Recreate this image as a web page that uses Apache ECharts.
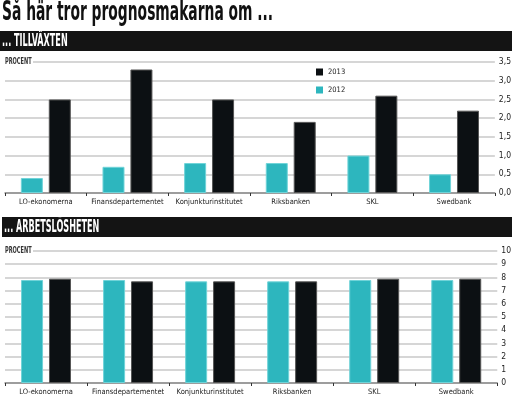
<!DOCTYPE html>
<html><head><meta charset="utf-8">
<script src="https://cdn.jsdelivr.net/npm/echarts@6/dist/echarts.min.js"></script>
<style>html,body{margin:0;padding:0;background:#fff}#c{width:514px;height:401px}</style>
</head><body><div id="c"></div>
<script>
const categories = ['LO-ekonomerna','Finansdepartementet','Konjunkturinstitutet','Riksbanken','SKL','Swedbank'];
const tillvaxt2012 = [0.4, 0.7, 0.8, 0.8, 1.0, 0.5];
const tillvaxt2013 = [2.5, 3.3, 2.5, 1.9, 2.6, 2.2];
const arbetsloshet2012 = [7.8, 7.8, 7.7, 7.7, 7.8, 7.8];
const arbetsloshet2013 = [7.9, 7.7, 7.7, 7.7, 7.9, 7.9];
const legendOrder = ['2013', '2012'];
const titleText = 'Så här tror prognosmakarna om ...';
const section1 = '... TILLVÄXTEN';
const section2 = '... ARBETSLÖSHETEN';
const unitText = 'PROCENT';

const FF = "'Liberation Sans Narrow','DejaVu Sans Condensed',sans-serif";
const TEAL = '#2db6be', BLACK = '#0c1013';
const chart = echarts.init(document.getElementById('c'), null, {renderer:'canvas'});

function xAx(i){
  return {type:'category', gridIndex:i, data:categories,
    axisLine:{lineStyle:{color:'#8a8a8a', width:1.5}},
    axisTick:{show:true, length:3, lineStyle:{color:'#333', width:1}},
    axisLabel:{interval:0, fontSize:7.5, color:'#222', margin:5, fontFamily:FF}};
}
function yAx(i, max, interval, fmt){
  return {type:'value', gridIndex:i, position:'right', min:0, max:max, interval:interval,
    axisLine:{show:false}, axisTick:{show:false},
    splitLine:{lineStyle:{color:'#c8c8c8', width:1.5}},
    axisLabel:{fontSize:8.5, color:'#222', margin:4, fontFamily:FF, formatter:fmt}};
}
function bar(name, data, i, color, border){
  return {name:name, type:'bar', xAxisIndex:i, yAxisIndex:i, data:data,
    barWidth:22, barGap:'27%',
    itemStyle:{color:color, borderColor:border, borderWidth:1}};
}

chart.setOption({
  animation:false,
  backgroundColor:'#fff',
  legend:{data:legendOrder, orient:'vertical', left:311, top:63, itemWidth:7, itemHeight:7, itemGap:10,
    icon:'rect', itemStyle:{borderWidth:0}, textStyle:{fontSize:7.5, color:'#222', fontFamily:FF}},
  grid:[{left:5, right:16, top:62, height:131}, {left:5, right:16, top:251, height:132}],
  xAxis:[xAx(0), xAx(1)],
  yAxis:[yAx(0, 3.5, 0.5, v => v.toFixed(1).replace('.', ',')), yAx(1, 10, 1, v => String(v))],
  series:[
    bar('2012', tillvaxt2012, 0, TEAL, '#6fd3d8'),
    bar('2013', tillvaxt2013, 0, BLACK, '#555'),
    bar('2012', arbetsloshet2012, 1, TEAL, '#6fd3d8'),
    bar('2013', arbetsloshet2013, 1, BLACK, '#555')
  ],
  graphic:[
    {type:'text', x:2, y:-1, scaleX:0.57, z:100, style:{text:titleText, fill:'#111', font:"bold 27px "+FF, verticalAlign:'top'}},
    {type:'rect', shape:{x:0, y:31, width:512, height:20}, style:{fill:'#141414'}, z:100},
    {type:'text', x:2, y:32, scaleX:0.5, z:101, style:{text:section1, fill:'#fff', font:"bold 18px "+FF, verticalAlign:'top'}},
    {type:'rect', shape:{x:2, y:217, width:510, height:20}, style:{fill:'#141414'}, z:100},
    {type:'text', x:4, y:218, scaleX:0.5, z:101, style:{text:section2, fill:'#fff', font:"bold 18px "+FF, verticalAlign:'top'}},
    {type:'rect', shape:{x:0, y:57, width:33, height:10}, style:{fill:'#fff'}, z:100},
    {type:'text', x:5, y:58, scaleX:0.7, z:101, style:{text:unitText, fill:'#333', font:"bold 8px "+FF, verticalAlign:'top'}},
    {type:'rect', shape:{x:0, y:246, width:33, height:10}, style:{fill:'#fff'}, z:100},
    {type:'text', x:5, y:247, scaleX:0.7, z:101, style:{text:unitText, fill:'#333', font:"bold 8px "+FF, verticalAlign:'top'}}
  ]
});
</script></body></html>
